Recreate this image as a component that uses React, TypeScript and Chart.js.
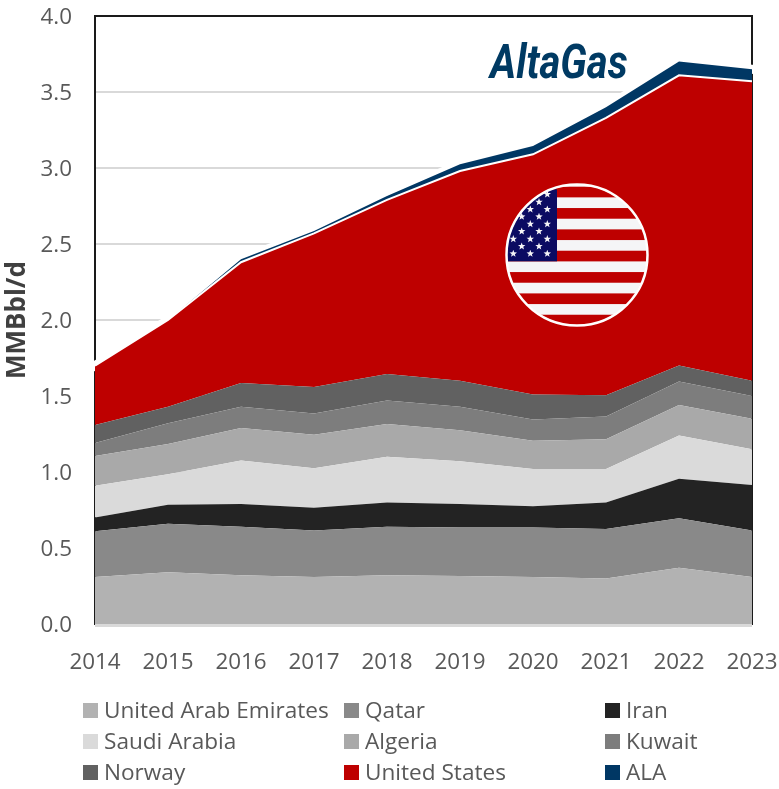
import React, { useEffect, useRef } from "react";
import { Chart, registerables } from "chart.js";

Chart.register(...registerables);

const years = ["2014", "2015", "2016", "2017", "2018", "2019", "2020", "2021", "2022", "2023"];
const uae = [0.31, 0.34, 0.32, 0.31, 0.32, 0.315, 0.31, 0.3, 0.37, 0.31];
const qatar = [0.3, 0.32, 0.32, 0.305, 0.32, 0.32, 0.325, 0.325, 0.325, 0.305];
const iran = [0.09, 0.125, 0.15, 0.15, 0.16, 0.155, 0.14, 0.175, 0.26, 0.3];
const saudi = [0.21, 0.2, 0.285, 0.26, 0.3, 0.28, 0.245, 0.22, 0.285, 0.235];
const algeria = [0.195, 0.2, 0.215, 0.22, 0.215, 0.205, 0.185, 0.195, 0.2, 0.2];
const kuwait = [0.085, 0.135, 0.14, 0.14, 0.155, 0.155, 0.14, 0.15, 0.155, 0.15];
const norway = [0.12, 0.11, 0.155, 0.175, 0.175, 0.17, 0.165, 0.14, 0.105, 0.1];
const unitedStates = [0.39, 0.57, 0.795, 1.01, 1.145, 1.38, 1.58, 1.825, 1.91, 1.97];
const ala = [0, 0, 0.02, 0.015, 0.025, 0.045, 0.055, 0.07, 0.09, 0.08];

const names = ["United Arab Emirates", "Qatar", "Iran", "Saudi Arabia", "Algeria", "Kuwait", "Norway", "United States", "ALA"];
const colors = ["#B2B2B2", "#898989", "#232323", "#DADADA", "#A9A9A9", "#7D7D7D", "#616161", "#BE0000", "#003764"];
const series = [uae, qatar, iran, saudi, algeria, kuwait, norway, unitedStates, ala];

const FONT = '"Open Sans", sans-serif';

const star = (ctx: CanvasRenderingContext2D, x: number, y: number, r: number) => {
  ctx.beginPath();
  for (let i = 0; i < 10; i++) {
    const a = -Math.PI / 2 + (i * Math.PI) / 5;
    const rr = i % 2 === 0 ? r : r * 0.42;
    ctx.lineTo(x + rr * Math.cos(a), y + rr * Math.sin(a));
  }
  ctx.closePath();
  ctx.fill();
};

const decorations = {
  id: "decorations",
  beforeDatasetsDraw(chart: any) {
    const { ctx, chartArea: a } = chart;
    ctx.save();
    // frame
    ctx.strokeStyle = "#1a1a1a";
    ctx.lineWidth = 2;
    ctx.strokeRect(a.left, a.top, a.right - a.left, a.bottom - a.top);
    // white halo above the stack
    const pts = chart.getDatasetMeta(8).data;
    ctx.strokeStyle = "#ffffff";
    ctx.lineWidth = 9;
    ctx.lineCap = "square";
    ctx.lineJoin = "round";
    ctx.beginPath();
    pts.forEach((p: any, i: number) => (i ? ctx.lineTo(p.x, p.y) : ctx.moveTo(p.x, p.y)));
    ctx.stroke();
    ctx.restore();
  },
  afterDatasetsDraw(chart: any) {
    const { ctx, chartArea: a } = chart;
    ctx.save();
    // base line
    ctx.fillStyle = "#D9D9D9";
    ctx.fillRect(a.left, a.bottom, a.right - a.left, 3);

    // logo
    ctx.save();
    ctx.fillStyle = "#003A63";
    ctx.font = "italic bold 48px Roboto, sans-serif";
    ctx.textAlign = "left";
    ctx.textBaseline = "alphabetic";
    ctx.translate(a.left + 395, 78);
    ctx.scale(0.835, 1);
    ctx.fillText("AltaGas", 0, 0);
    ctx.restore();

    // flag
    const cx = a.left + 482;
    const cy = a.top + 239;
    const R = 70;
    ctx.save();
    ctx.beginPath();
    ctx.arc(cx, cy, R, 0, Math.PI * 2);
    ctx.clip();
    ctx.fillStyle = "#F5F5F7";
    ctx.fillRect(cx - R, cy - R, R * 2, R * 2);
    ctx.fillStyle = "#BE0000";
    const stripe = 10.67;
    const top = cy - 68.3;
    for (let i = 0; i < 13; i += 2) ctx.fillRect(cx - R, top + i * stripe, R * 2, stripe);
    ctx.fillStyle = "#0B0B62";
    ctx.fillRect(cx - R, cy - 65.7, R - 20, 72);
    ctx.fillStyle = "#F5F5F7";
    const starRows: [number, number[]][] = [
      [-60.7, [-29.7]],
      [-53, [-38]],
      [-45.7, [-46.7, -29.7]],
      [-38.3, [-55.3, -38]],
      [-31, [-46.7, -29.7]],
      [-23.7, [-55.3, -38]],
      [-16, [-63.7, -46.7, -29.7]],
      [-8.7, [-55.3, -38]],
      [-1.3, [-63.7, -46.7, -29.7]],
    ];
    starRows.forEach(([dy, xs]) => xs.forEach((dx) => star(ctx, cx + dx, cy + dy, 3.9)));
    ctx.restore();
    ctx.strokeStyle = "#ffffff";
    ctx.lineWidth = 2.5;
    ctx.beginPath();
    ctx.arc(cx, cy, R + 0.5, 0, Math.PI * 2);
    ctx.stroke();
    ctx.restore();
  },
};

export default function App() {
  const ref = useRef<HTMLCanvasElement>(null);
  useEffect(() => {
    const chart = new Chart(ref.current!, {
      type: "line",
      data: {
        labels: years,
        datasets: series.map((d, i) => ({
          label: names[i],
          data: d,
          backgroundColor: colors[i],
          borderColor: i === 7 ? "#ffffff" : colors[i],
          borderWidth: i === 7 ? 2 : 0,
          fill: i === 0 ? "origin" : "-1",
          pointRadius: 0,
          tension: 0,
        })),
      },
      options: {
        responsive: false,
        animation: false,
        layout: { padding: { top: 16, right: 27, left: 0, bottom: 0 } },
        plugins: { legend: { display: false }, tooltip: { enabled: false } },
        scales: {
          x: {
            type: "category",
            offset: false,
            stacked: true,
            grid: { display: false, drawTicks: false },
            border: { display: false },
            ticks: { color: "#595959", font: { family: FONT, size: 22.4 }, padding: 25, maxRotation: 0, autoSkip: false },
            afterFit: (s: any) => { s.height = 165; s.paddingRight = 0; s.paddingLeft = 0; },
          },
          y: {
            stacked: true,
            min: 0,
            max: 4,
            grid: { color: "#D9D9D9", lineWidth: 2, drawTicks: false },
            border: { display: false },
            ticks: { stepSize: 0.5, color: "#595959", font: { family: FONT, size: 22.4 }, padding: 23, labelOffset: 2, callback: (v: any) => Number(v).toFixed(1) },
            title: { display: true, text: "MMBbl/d", color: "#404040", font: { family: FONT, size: 26, weight: "bold" }, padding: { top: 2, bottom: 0 } },
            afterFit: (s: any) => { s.width = 95; s.paddingTop = 0; s.paddingBottom = 0; },
          },
        },
      },
      plugins: [decorations],
    } as any);
    return () => chart.destroy();
  }, []);

  const colX = [83, 344, 605];
  const rowY = [703, 734, 765];
  return (
    <div style={{ position: "absolute", left: 0, top: 0, width: 779, height: 789, background: "#fff", overflow: "hidden" }}>
      <canvas ref={ref} width={779} height={789} style={{ display: "block" }} />
      {names.map((n, i) => (
        <div key={n} style={{ position: "absolute", left: colX[i % 3], top: rowY[Math.floor(i / 3)], height: 15, display: "flex", alignItems: "center", whiteSpace: "nowrap" }}>
          <span style={{ width: 15, height: 15, background: colors[i], marginRight: 6, display: "inline-block" }} />
          <span style={{ font: `22.6px ${FONT}`, color: "#595959", lineHeight: "15px", position: "relative", top: -1 }}>{n}</span>
        </div>
      ))}
    </div>
  );
}
